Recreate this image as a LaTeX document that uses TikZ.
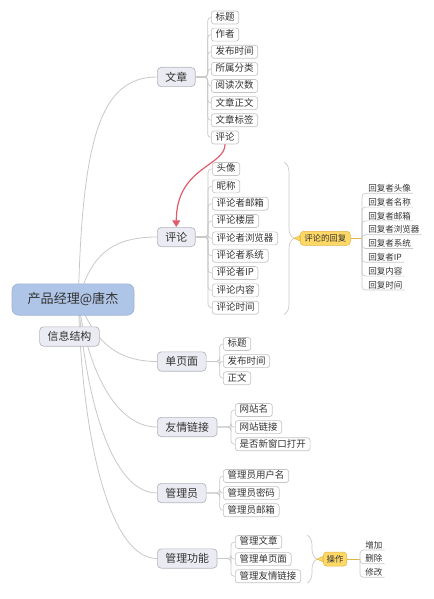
\documentclass[tikz,border=0pt]{standalone}
\usepackage{fontspec}
\setmainfont{Noto Sans CJK SC}
\usetikzlibrary{arrows.meta, positioning, backgrounds, calc, decorations.pathreplacing}
\definecolor{linegrey}{HTML}{C8C8C8}
\definecolor{topicfill}{HTML}{EBEBF3}
\definecolor{topicdraw}{HTML}{B4B4BE}
\definecolor{rootfill}{HTML}{AFC5E7}
\definecolor{rootdraw}{HTML}{9DB2D3}
\definecolor{leafdraw}{HTML}{C4C4C4}
\definecolor{notefill}{HTML}{FFD866}
\definecolor{notedraw}{HTML}{E3B545}
\definecolor{linkred}{HTML}{E05C6C}
\definecolor{ink}{HTML}{333333}

\begin{document}
\begin{tikzpicture}[
  x=0.75pt, y=-0.75pt,
  node distance=2.6pt,
  root/.style={rectangle,rounded corners=5pt,fill=rootfill,draw=rootdraw,line width=0.5pt,
    minimum width=91.5pt,minimum height=23.5pt,font=\fontsize{9.8}{11}\selectfont,text=ink},
  topic/.style={rectangle,rounded corners=3pt,fill=topicfill,draw=topicdraw,line width=0.5pt,
    minimum height=14.5pt,inner xsep=6pt,font=\fontsize{8.2}{10}\selectfont,text=ink},
  leaf/.style={rectangle,rounded corners=2pt,fill=white,draw=leafdraw,line width=0.5pt,
    minimum height=9.75pt,inner xsep=3.2pt,inner ysep=0pt,text height=5.6pt,text depth=1.2pt,
    font=\fontsize{7.1}{8}\selectfont,text=ink},
  note/.style={rectangle,rounded corners=2.5pt,fill=notefill,draw=notedraw,line width=0.4pt,
    minimum height=10.5pt,inner xsep=3pt,inner ysep=0pt,font=\fontsize{6.3}{7}\selectfont,text=ink},
  reply/.style={anchor=south west,inner xsep=1.5pt,inner ysep=0.3pt,text height=5pt,text depth=0.8pt,
    font=\fontsize{6.4}{7}\selectfont,text=ink},
  branch/.style={draw=linegrey,line width=0.6pt},
  twig/.style={draw=linegrey,line width=0.5pt,rounded corners=2.5pt},
  gold/.style={draw=notedraw,line width=0.6pt},
  brace/.style={draw=linegrey,line width=0.5pt,decorate,decoration={brace,amplitude=7.5pt}},
  link/.style={draw=linkred,line width=0.9pt,-{Triangle[width=6pt,length=5pt]}}]
  \useasboundingbox (0,0) rectangle (433,599);

  % root and label
  \node[root] (root) at (73,299.5) {产品经理@唐杰};
  \node[topic] (info) at (69.5,336.5) {信息结构};

  % main topics
  \node[topic,anchor=west] (article) at (157,77)    {文章};
  \node[topic,anchor=west] (comment) at (157,237)   {评论};
  \node[topic,anchor=west] (page)    at (157,361.5) {单页面};
  \node[topic,anchor=west] (links)   at (157,427)   {友情链接};
  \node[topic,anchor=west] (admin)   at (157,493)   {管理员};
  \node[topic,anchor=west] (manage)  at (157,558.5) {管理功能};

  % article
  \node[leaf,anchor=west] (art1) at (211,17.5) {标题};
  \node[leaf,below=of art1.south west,anchor=north west] (art2) {作者};
  \node[leaf,below=of art2.south west,anchor=north west] (art3) {发布时间};
  \node[leaf,below=of art3.south west,anchor=north west] (art4) {所属分类};
  \node[leaf,below=of art4.south west,anchor=north west] (art5) {阅读次数};
  \node[leaf,below=of art5.south west,anchor=north west] (art6) {文章正文};
  \node[leaf,below=of art6.south west,anchor=north west] (art7) {文章标签};
  \node[leaf,below=of art7.south west,anchor=north west] (art8) {评论};

  % comment
  \node[leaf,anchor=west] (com1) at (212,169) {头像};
  \node[leaf,below=2.75pt of com1.south west,anchor=north west] (com2) {昵称};
  \node[leaf,below=2.75pt of com2.south west,anchor=north west] (com3) {评论者邮箱};
  \node[leaf,below=2.75pt of com3.south west,anchor=north west] (com4) {评论楼层};
  \node[leaf,below=2.75pt of com4.south west,anchor=north west] (com5) {评论者浏览器};
  \node[leaf,below=2.75pt of com5.south west,anchor=north west] (com6) {评论者系统};
  \node[leaf,below=2.75pt of com6.south west,anchor=north west] (com7) {评论者IP};
  \node[leaf,below=2.75pt of com7.south west,anchor=north west] (com8) {评论内容};
  \node[leaf,below=2.75pt of com8.south west,anchor=north west] (com9) {评论时间};

  % page
  \node[leaf,anchor=west] (pg1) at (223,344) {标题};
  \node[leaf,below=of pg1.south west,anchor=north west] (pg2) {发布时间};
  \node[leaf,below=of pg2.south west,anchor=north west] (pg3) {正文};

  % links
  \node[leaf,anchor=west] (lk1) at (235,410) {网站名};
  \node[leaf,below=of lk1.south west,anchor=north west] (lk2) {网站链接};
  \node[leaf,below=of lk2.south west,anchor=north west] (lk3) {是否新窗口打开};

  % admin
  \node[leaf,anchor=west] (ad1) at (223,476) {管理员用户名};
  \node[leaf,below=of ad1.south west,anchor=north west] (ad2) {管理员密码};
  \node[leaf,below=of ad2.south west,anchor=north west] (ad3) {管理员邮箱};

  % manage
  \node[leaf,anchor=west] (mg1) at (235,542) {管理文章};
  \node[leaf,below=of mg1.south west,anchor=north west] (mg2) {管理单页面};
  \node[leaf,below=of mg2.south west,anchor=north west] (mg3) {管理友情链接};

  % summaries
  \coordinate (cbt) at ($(com5.east |- com1.north)+(6,0)$);
  \coordinate (cbb) at ($(com5.east |- com9.south)+(6,0)$);
  \coordinate (ctip) at ($(cbt)!0.5!(cbb)+(10,0)$);
  \draw[brace] (cbt) -- (cbb);
  \coordinate (mbt) at ($(mg3.east |- mg1.north)+(6,0)$);
  \coordinate (mbb) at ($(mg3.east |- mg3.south)+(6,0)$);
  \coordinate (mtip) at ($(mbt)!0.5!(mbb)+(10,0)$);
  \draw[brace] (mbt) -- (mbb);

  \node[note,anchor=west] (reply) at ($(ctip)+(6,0)$) {评论的回复};
  \filldraw[fill=notefill,draw=notedraw,line width=0.4pt] (ctip) -- ([yshift=2pt]reply.west) -- ([yshift=-2pt]reply.west) -- cycle;
  \node[note,anchor=west,inner xsep=2.5pt] (ops) at ($(mtip)+(6,0)$) {操作};
  \filldraw[fill=notefill,draw=notedraw,line width=0.4pt] (mtip) -- ([yshift=2pt]ops.west) -- ([yshift=-2pt]ops.west) -- cycle;

  \node[reply] (re1) at (366,193.3) {回复者头像};
  \node[reply] (re2) at (366,207.1) {回复者名称};
  \node[reply] (re3) at (366,220.9) {回复者邮箱};
  \node[reply] (re4) at (366,234.7) {回复者浏览器};
  \node[reply] (re5) at (366,248.5) {回复者系统};
  \node[reply] (re6) at (366,262.3) {回复者IP};
  \node[reply] (re7) at (366,276.1) {回复内容};
  \node[reply] (re8) at (366,290)   {回复时间};

  \node[reply] (op1) at (363,550)   {增加};
  \node[reply] (op2) at (363,563.7) {删除};
  \node[reply] (op3) at (363,577.3) {修改};

  % connectors
  \foreach \i in {1,...,8} \draw[twig] (article.east) -| ([xshift=-2.5pt]art\i.west) -- (art\i.west);
  \foreach \i in {1,...,9} \draw[twig] (comment.east) -| ([xshift=-3pt]com\i.west) -- (com\i.west);
  \foreach \i in {1,2,3} \draw[twig] (page.east) -| ([xshift=-2.5pt]pg\i.west) -- (pg\i.west);
  \foreach \i in {1,2,3} \draw[twig] (links.east) -| ([xshift=-3pt]lk\i.west) -- (lk\i.west);
  \foreach \i in {1,2,3} \draw[twig] (admin.east) -| ([xshift=-2.5pt]ad\i.west) -- (ad\i.west);
  \foreach \i in {1,2,3} \draw[twig] (manage.east) -| ([xshift=-3pt]mg\i.west) -- (mg\i.west);

  \coordinate (rbk) at (reply.east -| 362,0);
  \draw[gold] (reply.east) -- (rbk);
  \foreach \i in {1,...,8} \draw[twig] (rbk) |- (re\i.south east);
  \coordinate (obk) at (ops.east -| 360,0);
  \draw[gold] (ops.east) -- (obk);
  \foreach \i in {1,2,3} \draw[twig] (obk) |- (op\i.south east);

  \draw[link] (art8.south) .. controls +(0,22) and +(0,-60) .. (comment.north);

  \begin{scope}[on background layer]
    \draw[branch] ([xshift=4pt]root.center) .. controls +(4,-160) and +(-57,0) .. (article.west);
    \draw[branch] ([xshift=4pt]root.center) .. controls +(12,-40) and +(-50,0) .. (comment.west);
    \draw[branch] ([xshift=4pt]root.center) .. controls +(12,30) and +(-50,0) .. (page.west);
    \draw[branch] ([xshift=4pt]root.center) .. controls +(7,60) and +(-45,0) .. (links.west);
    \draw[branch] ([xshift=4pt]root.center) .. controls +(7,100) and +(-45,0) .. (admin.west);
    \draw[branch] ([xshift=4pt]root.center) .. controls +(4,150) and +(-45,0) .. (manage.west);
  \end{scope}
\end{tikzpicture}
\end{document}
